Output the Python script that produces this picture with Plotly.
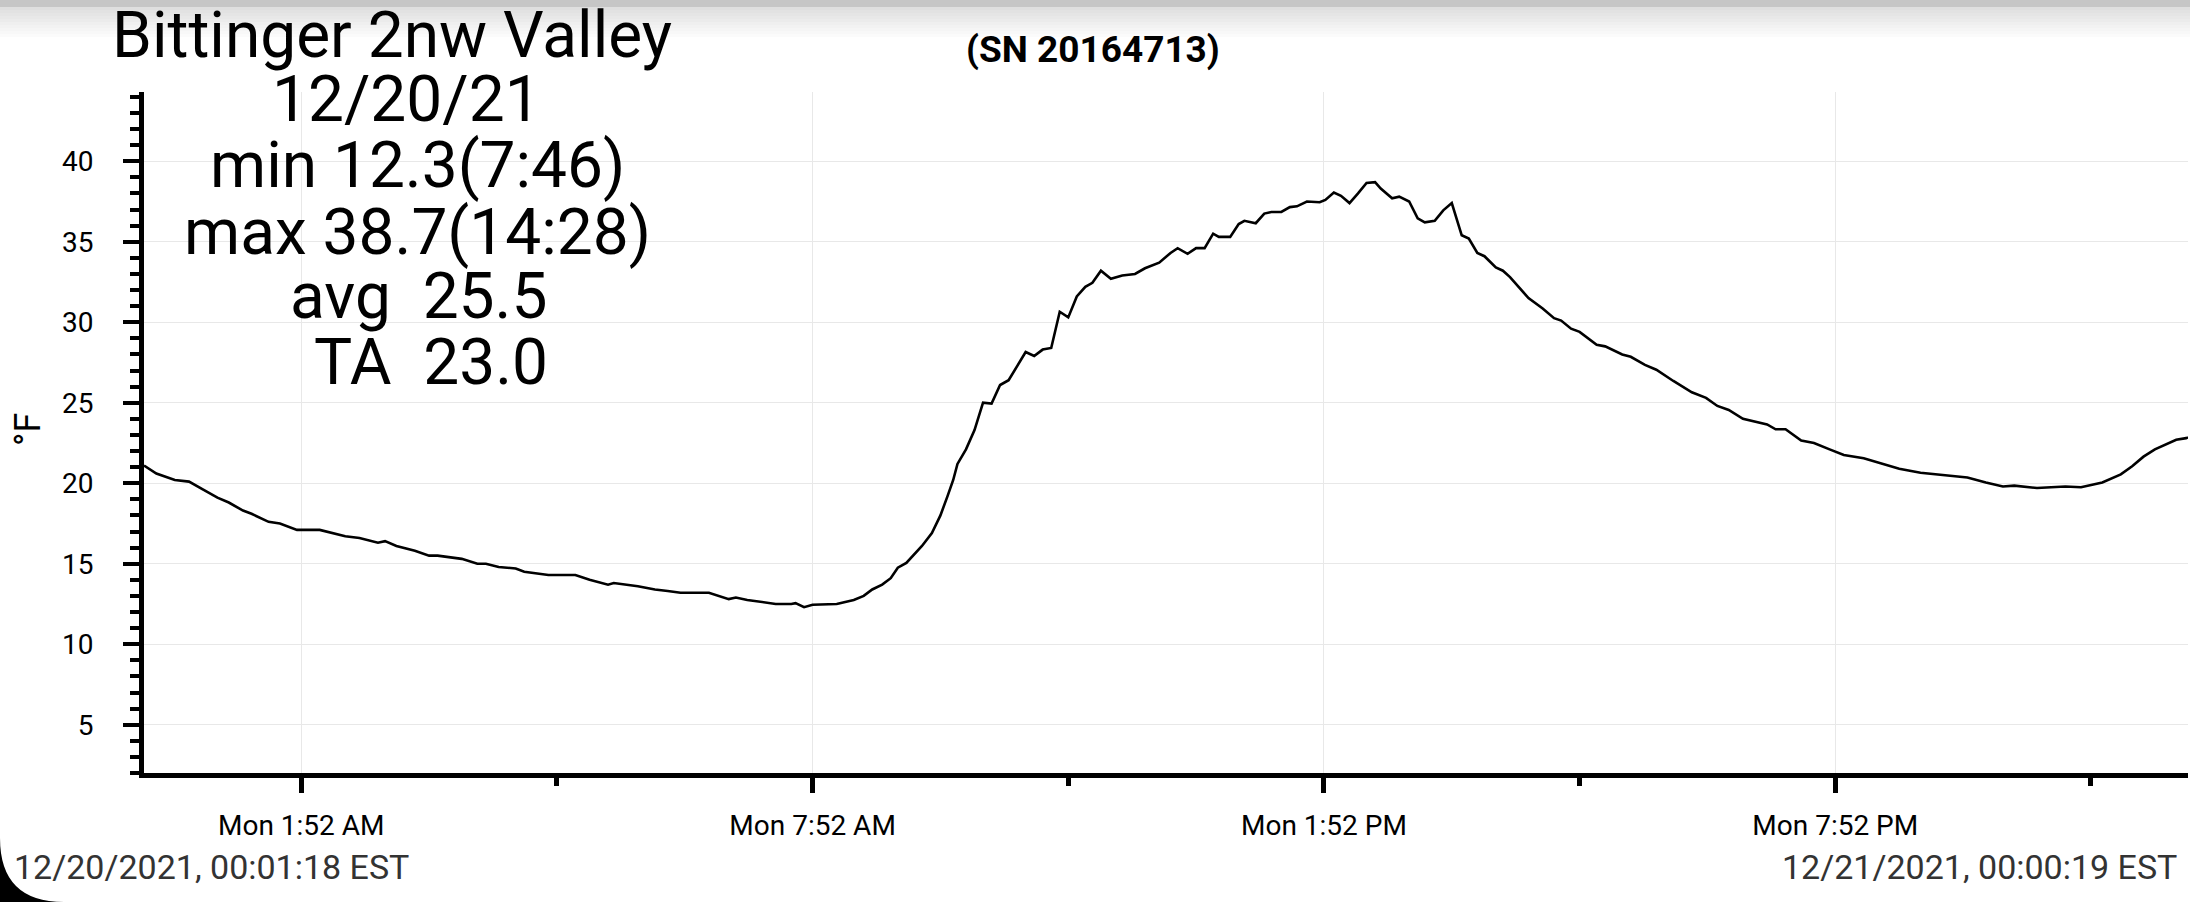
import plotly.graph_objects as go

# Temperature log, Bittinger 2nw Valley, 12/20/2021 (readings taken off the chart)
day = "2021-12-20"
clock = [
    "00:01:18", "00:10", "00:23", "00:33", "00:43", "00:53", "01:01", "01:11", "01:17", "01:29",
    "01:37", "01:49", "02:05", "02:15", "02:23", "02:33", "02:46", "02:51", "02:59", "03:12",
    "03:22", "03:28", "03:45", "03:56", "04:02", "04:11", "04:23", "04:29", "04:46", "05:05",
    "05:15", "05:28", "05:32", "05:49", "06:01", "06:10", "06:19", "06:39", "06:53", "06:58",
    "07:06", "07:26", "07:37", "07:40", "07:46", "07:52", "08:09", "08:21", "08:28", "08:34",
    "08:41", "08:47", "08:52", "08:58", "09:09", "09:16", "09:22", "09:27", "09:31", "09:34",
    "09:40", "09:46", "09:52", "09:58", "10:04", "10:10", "10:22", "10:28", "10:34", "10:40",
    "10:46", "10:52", "10:58", "11:04", "11:09", "11:15", "11:22", "11:30", "11:39", "11:46",
    "11:56", "12:04", "12:09", "12:16", "12:22", "12:28", "12:34", "12:38", "12:46", "12:52",
    "12:56", "13:04", "13:10", "13:15", "13:22", "13:28", "13:33", "13:40", "13:49", "13:53",
    "13:59", "14:04", "14:10", "14:16", "14:22", "14:28", "14:32", "14:40", "14:45", "14:52",
    "14:58", "15:03", "15:10", "15:16", "15:22", "15:29", "15:34", "15:40", "15:45", "15:53",
    "15:58", "16:03", "16:10", "16:16", "16:26", "16:34", "16:39", "16:46", "16:52", "17:04",
    "17:10", "17:22", "17:28", "17:38", "17:46", "17:58", "18:11", "18:21", "18:29", "18:37",
    "18:47", "19:04", "19:10", "19:17", "19:28", "19:37", "19:48", "19:58", "20:12", "20:24",
    "20:37", "20:52", "21:08", "21:25", "21:38", "21:50", "21:58", "22:14", "22:34", "22:45",
    "23:00", "23:13", "23:21", "23:29", "23:37", "23:52", "23:59",
]
last_stamp = "2021-12-21 00:00:19"

temps_f = [
    21.1, 20.6, 20.2, 20.1, 19.6, 19.1, 18.8, 18.3, 18.1, 17.6,
    17.5, 17.1, 17.1, 16.9, 16.7, 16.6, 16.3, 16.4, 16.1, 15.8,
    15.5, 15.5, 15.3, 15.0, 15.0, 14.8, 14.7, 14.5, 14.3, 14.3,
    14.0, 13.7, 13.8, 13.6, 13.4, 13.3, 13.2, 13.2, 12.8, 12.9,
    12.75, 12.5, 12.5, 12.55, 12.3, 12.45, 12.5, 12.75, 13.0, 13.4,
    13.7, 14.1, 14.75, 15.05, 16.1, 16.9, 18.0, 19.2, 20.2, 21.2,
    22.1, 23.3, 25.0, 24.95, 26.1, 26.4, 28.15, 27.9, 28.3, 28.4,
    30.65, 30.3, 31.6, 32.2, 32.45, 33.2, 32.7, 32.9, 33.0, 33.35,
    33.7, 34.3, 34.6, 34.25, 34.6, 34.6, 35.5, 35.3, 35.3, 36.1,
    36.3, 36.15, 36.75, 36.85, 36.85, 37.15, 37.2, 37.5, 37.45, 37.6,
    38.05, 37.85, 37.4, 38.0, 38.65, 38.7, 38.3, 37.7, 37.8, 37.5,
    36.45, 36.2, 36.3, 36.95, 37.4, 35.4, 35.2, 34.3, 34.1, 33.4,
    33.2, 32.8, 32.1, 31.5, 30.85, 30.25, 30.1, 29.6, 29.4, 28.6,
    28.5, 28.0, 27.85, 27.35, 27.05, 26.35, 25.65, 25.3, 24.8, 24.55,
    24.0, 23.65, 23.35, 23.35, 22.65, 22.5, 22.1, 21.75, 21.55, 21.25,
    20.9, 20.65, 20.5, 20.35, 20.05, 19.8, 19.85, 19.7, 19.8, 19.75,
    20.05, 20.55, 21.05, 21.65, 22.1, 22.7, 22.8,
    22.85,
]

times = [f"{day} {c}" for c in clock] + [last_stamp]

x_tickvals = ["2021-12-20 01:52", "2021-12-20 07:52", "2021-12-20 13:52", "2021-12-20 19:52"]
x_ticktext = ["Mon 1:52 AM", "Mon 7:52 AM", "Mon 1:52 PM", "Mon 7:52 PM"]
y_tickvals = [5, 10, 15, 20, 25, 30, 35, 40]

info_lines = ["Bittinger 2nw Valley", "12/20/21", "min 12.3(7:46)",
              "max 38.7(14:28)", "avg  25.5", "TA  23.0"]
serial = "(SN 20164713)"
start_label = "12/20/2021, 00:01:18 EST"
end_label = "12/21/2021, 00:00:19 EST"

# page geometry (pixels)
W, H = 2190, 902
ML, MR, MT, MB = 144, 2, 92, 129


def px_x(px):
    return (px - ML) / (W - ML - MR)


def px_y(py):
    return 1 - (py - MT) / (H - MT - MB)


fig = go.Figure()
fig.add_trace(go.Scatter(
    x=times, y=temps_f, mode="lines",
    line=dict(color="black", width=2.6),
    showlegend=False,
))

annotations = []
# station block in the top left
info_x = [392, 406, 417, 417, 418, 431]
info_y = [35, 100, 166, 232, 296, 362]
for txt, cx, cy in zip(info_lines, info_x, info_y):
    annotations.append(dict(
        text=txt, x=px_x(cx), y=px_y(cy), xref="paper", yref="paper",
        xanchor="center", yanchor="middle", showarrow=False,
        font=dict(family="Roboto", size=64, color="black"),
    ))
annotations.append(dict(
    text=serial, x=px_x(1093), y=px_y(50), xref="paper", yref="paper",
    xanchor="center", yanchor="middle", showarrow=False,
    font=dict(family="Roboto", size=37, color="black", weight="bold"),
))
annotations.append(dict(
    text="°F", x=px_x(28), y=px_y(430), xref="paper", yref="paper",
    xanchor="center", yanchor="middle", textangle=-90, showarrow=False,
    font=dict(family="Roboto", size=36, color="black"),
))
# corner time stamps, both starting exactly at their left x
for txt, lx in ((start_label, 13), (end_label, 1781)):
    annotations.append(dict(
        text=txt, x=px_x(lx), y=px_y(867), xref="paper", yref="paper",
        xanchor="left", yanchor="middle", align="left", borderpad=0,
        showarrow=False,
        font=dict(family="Roboto", size=34, color="#333333"),
    ))

# grey shadow along the top of the screenshot, and the rounded screen corner
shapes = []
shapes.append(dict(type="rect", xref="paper", yref="paper",
                   x0=px_x(0), x1=px_x(W), y0=px_y(7), y1=px_y(0),
                   fillcolor="#c6c6c6", line_width=0, layer="below"))
steps = 10
for i in range(steps):
    g = int(0xdc + (0xff - 0xdc) * (i + 1) / (steps + 1))
    shapes.append(dict(type="rect", xref="paper", yref="paper",
                       x0=px_x(0), x1=px_x(W),
                       y0=px_y(7 + (i + 1) * 3), y1=px_y(7 + i * 3),
                       fillcolor=f"rgb({g},{g},{g})", line_width=0, layer="below"))
shapes.append(dict(
    type="path", xref="paper", yref="paper",
    path=(f"M {px_x(0)},{px_y(838)} Q {px_x(0)},{px_y(902)} {px_x(64)},{px_y(902)} "
          f"L {px_x(0)},{px_y(902)} Z"),
    fillcolor="black", line_width=0,
))

fig.update_layout(
    width=W, height=H,
    margin=dict(l=ML, r=MR, t=MT, b=MB),
    paper_bgcolor="white", plot_bgcolor="white",
    font=dict(family="Roboto", color="black"),
    annotations=annotations,
    shapes=shapes,
)

fig.update_xaxes(
    type="date",
    range=[times[0], times[-1]],
    tickvals=x_tickvals, ticktext=x_ticktext,
    ticks="outside", ticklen=15, tickwidth=5, tickcolor="black",
    ticklabelstandoff=8,
    tickfont=dict(family="Roboto", size=28, color="black"),
    showline=True, linewidth=5, linecolor="black",
    showgrid=True, gridcolor="#e8e8e8", gridwidth=1,
    zeroline=False,
    minor=dict(ticks="outside", ticklen=8, tickwidth=5, tickcolor="black",
               tick0="2021-12-20 01:52", dtick=3 * 3600 * 1000, showgrid=False),
)
fig.update_yaxes(
    range=[2.0, 44.3],
    tickvals=y_tickvals,
    ticks="outside", ticklen=16, tickwidth=4, tickcolor="black",
    ticklabelstandoff=24,
    tickfont=dict(family="Roboto", size=28, color="black"),
    showline=True, linewidth=5, linecolor="black",
    showgrid=True, gridcolor="#e8e8e8", gridwidth=1,
    zeroline=False,
    minor=dict(ticks="outside", ticklen=9, tickwidth=4, tickcolor="black",
               dtick=1, showgrid=False),
)

# page body has a default margin; drop it so the figure fills the window
fig.write_html("out.html", config={"displayModeBar": False},
               post_script="document.body.style.margin = '0px';")
